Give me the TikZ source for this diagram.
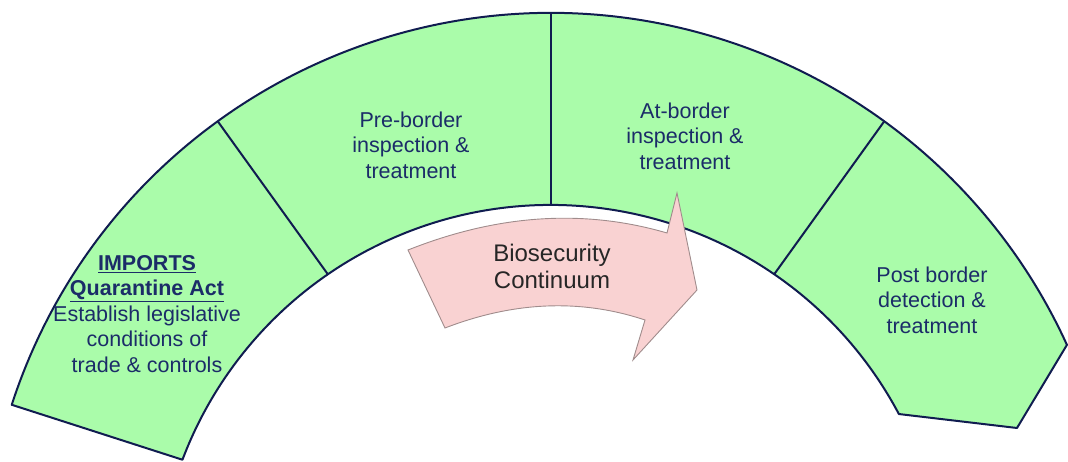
\documentclass[tikz,border=0pt]{standalone}
\usepackage{fontspec}
\setmainfont{Liberation Sans}
\usetikzlibrary{calc}
\definecolor{archgreen}{HTML}{AAFCAA}
\definecolor{archline}{HTML}{101C50}
\definecolor{archtext}{HTML}{1B2C68}
\definecolor{flowpink}{HTML}{F9D2D2}
\definecolor{flowline}{HTML}{A08C8C}
\tikzset{band/.style={draw=archline,line width=2pt,fill=archgreen,line join=round},
  divider/.style={draw=archline,line width=2pt},
  stage/.style={align=center,text=archtext,inner sep=0pt,font=\fontsize{21.5}{25.5}\selectfont},
  flow/.style={draw=flowline,line width=0.9pt,fill=flowpink,line join=miter}}

\begin{document}
\begin{tikzpicture}[x=1pt,y=1pt]
\useasboundingbox (0,0) rectangle (1068,461);
\coordinate (co) at (551,-119);
\coordinate (ci) at (551,-138);
\draw[band] ($(co)+(162:567)$) arc[start angle=162,end angle=24.5,radius=567] -- (1017,33)
  -- ($(ci)+(28:394)$) arc[start angle=28,end angle=159.3,radius=394] -- cycle;
\foreach \a/\b in {126/124.5,90/90,54/55.5}{
  \draw[divider] ($(co)+(\a:567)$) -- ($(ci)+(\b:394)$);
}
\draw[flow] (408,211) .. controls (497.7,246.7) and (584,252.3) .. (667,228) -- (677,268) -- (697,171)
  -- (633,101) -- (645,141) .. controls (581,162.3) and (514.3,159.7) .. (445,133) -- cycle;
\node[stage] (imports) at (147,147) {\underline{\textbf{IMPORTS}}\\\underline{\textbf{Quarantine Act}}\\Establish legislative\\conditions of\\trade \& controls};
\node[stage] (pre) at (411,316) {Pre-border\\inspection \&\\treatment};
\node[stage] (at) at (685,325) {At-border\\inspection \&\\treatment};
\node[stage] (post) at (932,161) {Post border\\detection \&\\treatment};
\node[stage,text=black!85,font=\fontsize{24}{27}\selectfont] (continuum) at (552,194.5) {Biosecurity\\Continuum};
\end{tikzpicture}
\end{document}
